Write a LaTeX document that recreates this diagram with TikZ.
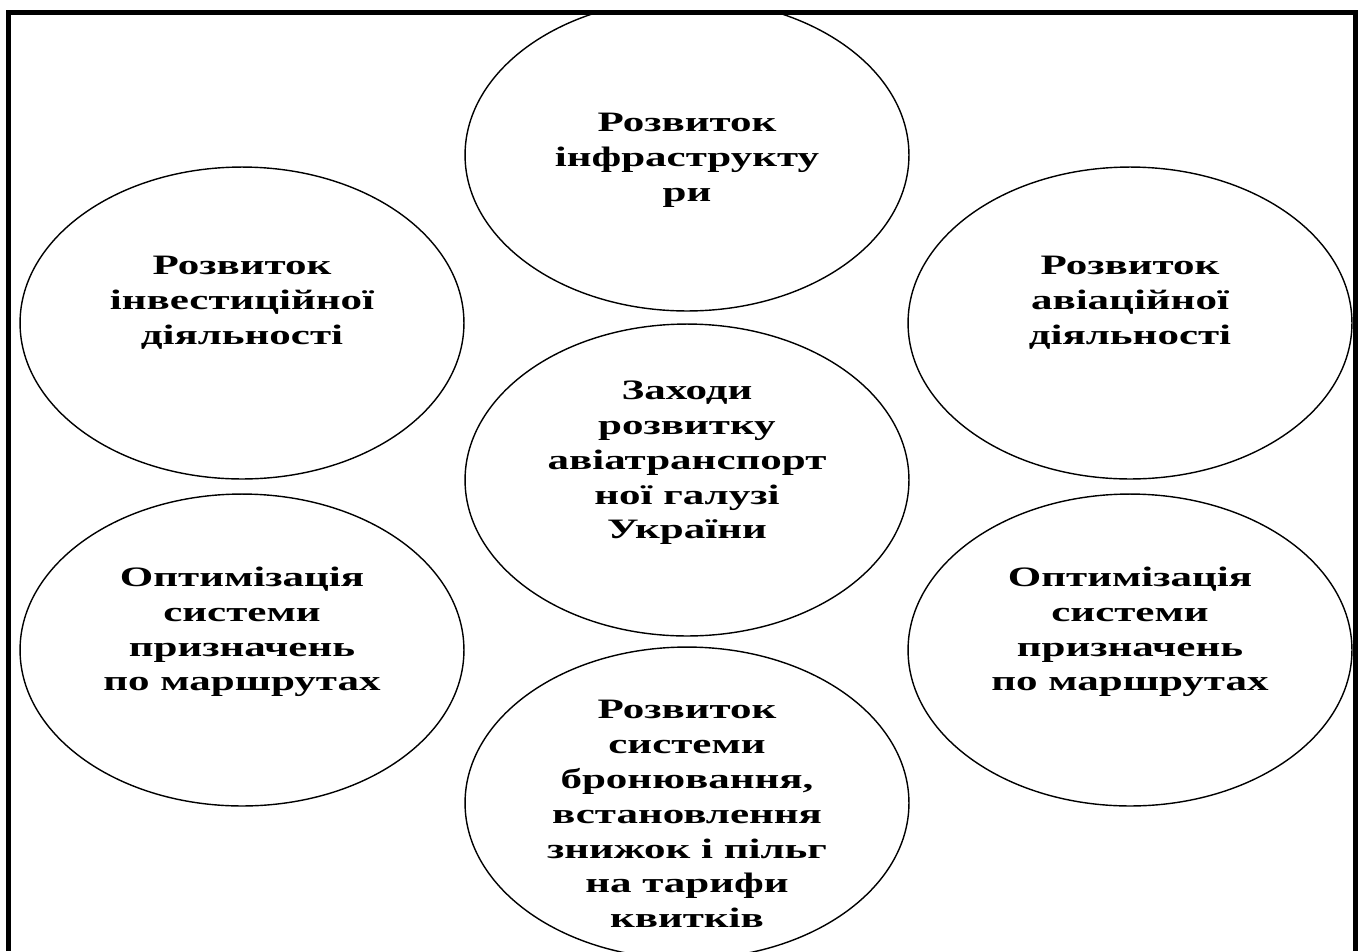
\documentclass[tikz,border=0pt]{standalone}
\usepackage{fontspec}
\setmainfont{Liberation Serif}[FakeStretch=1.53]
\usetikzlibrary{shapes.geometric}
\begin{document}
\begin{tikzpicture}[x=0.02cm,y=-0.02cm,
  oval/.style={draw,ellipse,line width=0.8pt,minimum width=8.88cm,minimum height=6.24cm,inner sep=0pt},
  lbl/.style={align=center,inner sep=0pt,font=\fontsize{16}{19.8}\selectfont\bfseries}]
\useasboundingbox (0,0) rectangle (1362,951);
\begin{scope}
\clip (0,12) rectangle (1362,951);
\node[oval] (infra) at (687,155) {};
\node[oval] (invest) at (242,323) {};
\node[oval] (avia) at (1130,323) {};
\node[oval] (centr) at (687,480) {};
\node[oval] (optl) at (242,650) {};
\node[oval] (optr) at (1130,650) {};
\node[oval] (bron) at (687,803) {};
\end{scope}
% texts
\node[lbl] (tinfra) at ([yshift=-0.1cm]infra.center) {Розвиток\\інфраструкту\\ри};
\node[lbl] (tinvest) at ([yshift=0.4cm]invest.center) {Розвиток\\інвестиційної\\діяльності};
\node[lbl] (tavia) at ([yshift=0.4cm]avia.center) {Розвиток\\авіаційної\\діяльності};
\node[lbl] (tcentr) at ([yshift=0.34cm]centr.center) {Заходи\\розвитку\\авіатранспорт\\ної галузі\\України};
\node[lbl] (toptl) at ([yshift=0.36cm]optl.center) {Оптимізація\\системи\\призначень\\по маршрутах};
\node[lbl] (toptr) at ([yshift=0.36cm]optr.center) {Оптимізація\\системи\\призначень\\по маршрутах};
\node[lbl] (tbron) at ([yshift=-0.22cm]bron.center) {Розвиток\\системи\\бронювання,\\встановлення\\знижок і пільг\\на тарифи\\квитків};
% frame
\draw[line width=0.1cm] (8.5,951) -- (8.5,12.5) -- (1355.5,12.5) -- (1355.5,951);
\end{tikzpicture}
\end{document}
